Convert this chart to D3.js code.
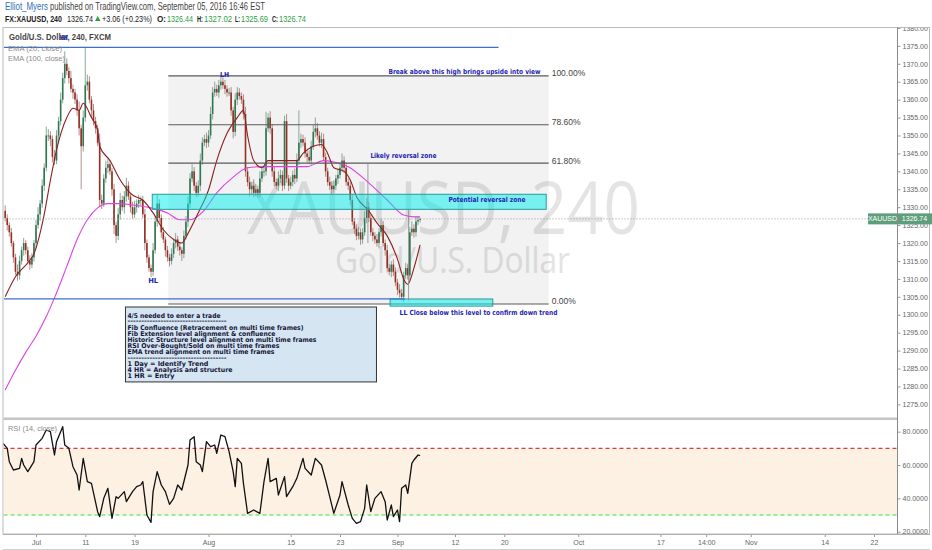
<!DOCTYPE html>
<html><head><meta charset="utf-8">
<script src="https://cdn.jsdelivr.net/npm/d3@7/dist/d3.min.js"></script>
<style>body{margin:0;background:#fff;}svg{display:block;}</style>
</head><body>
<svg id="c" width="932" height="550"></svg>
<script>
// ---------------- DATA ----------------
const symbolTitle = "Gold/U.S. Dollar, 240, FXCM";
const firstBarDate = "2016-06-27T06:00";   // first visible bar
const barSpan = 0.25;                        // trading days per bar
const firstOpen = 1329;
const closes = [1327,1325,1323,1320,1316,1312,1311,1315,1318,1320,
1318,1315,1314,1316,1320,1325,1328,1331,1336,1341,
1350,1350,1349,1344,1343,1350,1354,1360,1366,1370,
1368,1366,1363,1362,1360,1357,1352,1347,1355,1364,
1365,1360,1357,1354,1352,1348,1332,1331,1338,1341,
1342,1340,1335,1325,1322,1328,1332,1330,1333,1336,
1333,1330,1328,1330,1331,1332,1332,1328,1320,1316,
1313,1312,1318,1326,1331,1327,1323,1321,1318,1316,
1315,1317,1320,1321,1319,1318,1317,1322,1326,1331,
1338,1340,1336,1334,1336,1343,1348,1349,1348,1350,
1356,1362,1363,1362,1364,1365,1364,1363,1362,1362,
1357,1351,1360,1362,1361,1360,1356,1340,1337,1335,
1336,1334,1335,1334,1338,1340,1340,1352,1355,1352,
1340,1337,1336,1338,1339,1336,1354,1338,1336,1337,
1339,1338,1343,1348,1349,1348,1345,1344,1343,1347,
1351,1352,1350,1348,1349,1344,1340,1337,1336,1335,
1336,1338,1339,1341,1343,1341,1337,1336,1332,1326,
1324,1322,1323,1321,1323,1327,1330,1327,1323,1322,
1321,1320,1323,1325,1320,1318,1313,1312,1314,1312,
1309,1307,1306,1305,1311,1313,1311,1323,1324,1323,
1326,1326.44,1326.74];
const wickUp = [1.5,1,0.8,1.2,0.6,1,2,1.5,1,1.4,
0.8,1,1.6,1.2,0.9,1.5,2,1,1.8,1.2,
2.5,1.8,1.2,1,2,1.5,1.2,2,1.5,3.5,
1.5,1,2,1.2,1,1.5,2.5,1,2,10.6,
2,1.5,1,1.8,1.2,1,2.5,1.5,1.2,2,
1.5,1.2,1,1.5,1,1.8,2,1.2,1.5,2.2,
1.2,1,1.5,1.8,1.2,1.5,1,1.2,1.5,1,
0.8,1,2,1.5,2.5,1.2,1,1.5,0.8,1.2,
1,1.5,1.2,1.8,1,1.2,0.8,1.5,1.5,2,
1.5,2,1.2,1,1.5,2,1.5,1.2,1.8,1.5,
2,1.5,2,1.2,1.5,1.8,1.2,1.5,1,1.2,
1.5,1,1.8,1.5,1.2,1,1.5,2,1.2,1.5,
1,1.8,1.5,1,2,1.5,1.5,4.6,1.2,1.8,
1.2,1.5,1,2,1.5,1.2,1.5,2,1,1.5,
1.2,1.8,2,9,1.5,1.2,1.5,1,1.8,1.5,
2,3,1.5,1.2,1.8,1.5,1.2,1,1.5,1.2,
1.5,1,1.8,1.5,2,1.2,1.5,1,1.2,1.5,
1,1.2,1.5,1,1.2,2,2.5,1.5,1,1.2,
1,1.5,1.2,1.8,1.2,1,1.5,1.2,1,1.5,
1.2,1,1.5,1.2,1,1.5,1.2,1.5,2,1.2,
1.5,1,0.28];
const wickDn = [1,1.5,1.2,1,1.5,1,1.5,1.2,1,1.5,
1.2,1,1.5,1,1.2,1.5,1,1.8,1.2,1.5,
1,1.5,2,1.5,1.2,1,1.5,1.2,1,1.5,
1.2,1.5,1,1.8,1.2,1.5,2,12,1.5,1.2,
1.5,1,2,1.2,1.5,1,2,1.5,1,1.2,
1.5,1,1.8,2.5,2,1.2,1.5,1,1.8,1.5,
1,1.5,1.2,1,1.5,1.2,1.5,1,2,1.5,
1,1.5,1.2,1,1.5,1.2,1.5,1,1.8,1.2,
1.5,1,1.2,1.5,1.2,1.5,2,1.2,1,1.5,
1.2,1,1.5,1.2,1,1.5,1.2,1,1.5,1.2,
1,1.5,1.2,1,1.5,1.2,1,1.5,1.2,1,
1.5,1.8,1.2,1.5,1,1.2,1.5,1.5,1.2,2,
1.5,1.2,1,1.5,1.2,1,1.5,1.2,1,1.5,
1.5,1.2,1,1.5,1.2,1.5,1,1.2,1.5,1,
1.2,1.5,1,1.2,1.5,1,1.2,1.5,1,1.2,
1,1.5,1.2,1,1.5,1.2,1.5,1,1.2,1.5,
1,1.2,1.5,1,1.2,1.5,1,1.2,1.5,1,
1.5,1.2,1,1.5,1.2,1,1.5,1.2,1,1.5,
1.2,1,1.5,1.2,1,1.5,1.2,1,1.5,1.2,
1,1.5,1.2,1,1.5,1,1.2,1.5,1,1.5,
1.2,1,0.75];
const dayChange = 3.06, dayChangePct = 0.23;
// EMA lines: [bar index, value]
const ema20 = [[0,1305],[5,1310.6],[11,1314.5],[14,1317],[19,1328],[22,1337.5],[25,1346],[30,1355],[33,1357.6],[36,1357],[38,1359],[42,1355],[45,1351.5],[46,1347],[51,1343],[56,1337.6],[62,1333.4],[67,1332],[72,1328.4],[77,1323.7],[82,1321],[86,1320],[89,1322.7],[94,1328.4],[99,1334.8],[103,1343],[108,1350.6],[113,1355],[116,1357],[118,1350],[121,1343],[125,1341],[128,1343],[133,1343],[138,1343],[142,1343],[145,1345],[150,1347],[154,1347.5],[157,1345],[160,1341],[165,1340],[168,1337.6],[171,1333],[177,1329],[181,1325.6],[186,1322],[191,1315.5],[194,1310],[196,1308.5],[199,1313],[202,1319.5]];
const ema100 = [[0,1279],[5,1284.5],[10,1289.5],[15,1294],[20,1299.5],[24,1304.7],[30,1313.5],[35,1321],[40,1326.5],[45,1329.8],[50,1331],[56,1331],[62,1330.6],[71,1329.8],[79,1328.4],[85,1326.5],[90,1326.5],[97,1329.2],[103,1334],[111,1338.4],[118,1341],[126,1341.3],[136,1341.3],[147,1341.3],[155,1343],[160,1342.6],[167,1341.3],[177,1336.8],[186,1332],[194,1327.8],[199,1327.3],[202,1327.3]];
const rsi = [[-1,73],[1,70],[2,62],[4,57],[7,58],[8,64],[9,60],[11,56],[12,58],[14,62],[15,72],[18,76],[20,81],[22,80],[24,66],[25,74],[28,83],[29,72],[31,70],[33,59],[35,54],[36,45],[38,64],[40,50],[42,49],[45,32],[46,29],[48,40],[50,46],[52,28],[54,41],[55,40],[58,44],[59,38],[62,44],[64,47],[66,48],[67,50],[69,30],[71,25.6],[72,44],[74,56],[76,48],[78,44],[80,36.4],[82,40],[84,48],[86,45],[89,60],[90,75],[92,77],[93,62],[95,60],[96,56],[98,74],[100,71],[102,72],[103,67],[105,78],[107,77],[109,68],[111,56],[112,47],[113,64],[115,61],[116,49],[118,31],[121,33],[124,31],[126,50],[128,64],[129,50],[132,52],[133,42],[136,53],[137,41],[140,47],[142,52],[145,64],[146,58],[149,54],[151,64],[154,60],[156,51],[158,41],[160,31],[163,42],[164,50],[167,36],[169,28],[171,25],[173,26],[175,34],[176,48],[178,32],[180,40],[183,44],[185,38],[186,27],[188,36],[189,29],[191,33],[192,26],[193,46],[195,48],[196,43],[198,61],[199,63],[201,66],[202,65.6]];
const rsiLevels = [70, 30];
const priceTicks = [1275,1280,1285,1290,1295,1300,1305,1310,1315,1320,1325,1330,1335,1340,1345,1350,1355,1360,1365,1370,1375,1380];
const rsiTicks = [20,40,60,80];
const timeTickDates = ["2016-07-01","2016-07-11","2016-07-19","2016-08-01","2016-08-15","2016-08-23","2016-09-01","2016-09-12","2016-09-20","2016-10-03","2016-10-17","2016-10-24T14:00","2016-11-01","2016-11-14","2016-11-22"];
const timeTickLabels = ["Jul","11","19","Aug","15","23","Sep","12","20","Oct","17","14:00","Nov","14","22"];
// drawings: anchors in trading days since Jul 1 and price
const fib = {d0:16.1, d1:62.4, high:1366.6, low:1303.0, levels:[1,0.786,0.618,0]};
const hLines = [{d0:-3.9,d1:56.3,p:1374.55},{d0:-3.9,d1:44.9,p:1304.4}];
const zones = [{d0:14.15,d1:62.1,p0:1333.6,p1:1329.4},{d0:43.1,d1:55.6,p0:1304.4,p1:1302.4}];
const vLines = [{d:40.4,p0:1342.3,p1:1320},{d:45.35,p0:1329.2,p1:1304}];
const notes = [
 {t:"Break above this high brings upside into view",d:42.9,p:1367.1,w:152},
 {t:"Likely reversal zone",d:40.7,p:1343.7,w:66},
 {t:"Potential reversal zone",d:50.2,p:1331.4,w:77},
 {t:"LL",d:44.25,p:1300.0,w:8},
 {t:"Close below this level to confirm down trend",d:45.45,p:1300.0,w:148},
 {t:"HL",d:13.65,p:1308.8,w:10},
 {t:"LH",d:22.4,p:1366.2,w:9},
 {t:"HH",d:2.9,p:1376.6,w:8}
];
const boxNote = {d0:10.83,d1:41.38,p0:1302.3,p1:1281.4};
const boxLines = ["4/5 needed to enter a trade","------------------------------------","Fib Confluence (Retracement on multi time frames)","Fib Extension level alignment & confluence","Historic Structure level alignment on multi time frames","RSI Over-Bought/Sold on multi time frames","EMA trend alignment on multi time frames","------------------------------------","1 Day = Identify Trend","4 HR = Analysis and structure","1 HR = Entry"];
const boxLineWidths = [93,99,176,148,189,152,147,99,81,105,47];

// ---------------- HELPERS ----------------
function tradingDay(s){
  const [dp,tp]=s.split("T"); const [Y,M,D]=dp.split("-").map(Number);
  const t=Date.UTC(Y,M-1,D), base=Date.UTC(2016,6,1), day=864e5;
  let n=0;
  if(t>=base){ for(let u=base;u<t;u+=day){const w=new Date(u).getUTCDay(); if(w!==0&&w!==6) n++;} }
  else { for(let u=base;u>t;u-=day){const w=new Date(u-day).getUTCDay(); if(w!==0&&w!==6) n--;} }
  if(tp){const [h,m]=tp.split(":").map(Number); n+=(h+m/60)/24;}
  return n;
}
const bar0 = tradingDay(firstBarDate);
const barDay = i => bar0 + i*barSpan;

const UI = "'Liberation Sans', Arial, sans-serif";
const ANN = "'DejaVu Sans', Verdana, sans-serif";
const svg = d3.select("#c");
function T(parent,str,x,y,o={}){
  const t=parent.append("text").attr("x",x).attr("y",y).text(str)
   .attr("font-family",o.ff||UI).attr("font-size",o.fs||8).attr("fill",o.fill||"#333")
   .attr("font-weight",o.fw||"normal").attr("text-anchor",o.anchor||"start");
  if(o.len) t.attr("textLength",o.len).attr("lengthAdjust","spacingAndGlyphs");
  return t;
}

// ---------------- LAYOUT ----------------
const L=3.5, R=897.5, MT=29, MB=418, RT=420, RB=534;
const x = d3.scaleLinear().domain([0,102]).range([36,874]);
const y = d3.scaleLinear().domain([1271.2,1379.7]).range([MB,MT]);
const yr = d3.scaleLinear().domain([18.6,87]).range([RB,RT]);

const bars = closes.map((c,i)=>{const o=i===0?firstOpen:closes[i-1];
  return {i,o,c,h:Math.max(o,c)+wickUp[i],l:Math.min(o,c)-wickDn[i]};});
const last = bars[bars.length-1];

const defs = svg.append("defs");
defs.append("clipPath").attr("id","cm").append("rect").attr("x",L).attr("y",MT).attr("width",R-L).attr("height",MB-MT);
defs.append("clipPath").attr("id","cr").append("rect").attr("x",L).attr("y",RT).attr("width",R-L).attr("height",RB-RT);
defs.append("clipPath").attr("id","cax").append("rect").attr("x",R).attr("y",28).attr("width",40).attr("height",MB-28);
defs.append("clipPath").attr("id","caxr").append("rect").attr("x",R).attr("y",RT).attr("width",40).attr("height",RB-RT);

// ---------------- HEADER ----------------
const hd = svg.append("g");
T(hd,"Elliot_Myers",5,10,{fs:10,fill:"#2f6fb8",len:43});
T(hd,"published on TradingView.com, September 05, 2016 16:46 EST",50,10,{fs:10,fill:"#444",len:215});
const green="#2ea043";
const fmt2=d3.format(".2f");
T(hd,"FX:XAUUSD, 240",5,21.5,{fs:9,fw:"bold",fill:"#222",len:57});
T(hd,fmt2(last.c),67,21.5,{fs:9,fill:"#222",len:26});
hd.append("path").attr("d","M95,21 L100.5,21 L97.75,16 Z").attr("fill",green);
T(hd,`+${fmt2(dayChange)} (+${fmt2(dayChangePct)}%)`,102,21.5,{fs:9,fill:"#222",len:50});
const ohlc=[["O:",157,166,last.o,167,193],["H:",197,203,last.h,204,232],["L:",235,240,last.l,241,268],["C:",272,278,last.c,279,306]];
ohlc.forEach(a=>{T(hd,a[0],a[1],21.5,{fs:9,fw:"bold",fill:"#222",len:a[2]-a[1]});T(hd,fmt2(a[3]),a[4],21.5,{fs:9,fill:green,len:a[5]-a[4]});});

// ---------------- FRAME ----------------
const fr = svg.append("g").attr("fill","none").attr("stroke","#c8c8c8");
fr.append("rect").attr("x",L-0.5).attr("y",27.5).attr("width",930-L).attr("height",RB-27.5).attr("stroke","#b9b9b9");
svg.append("rect").attr("x",L).attr("y",MB-0.5).attr("width",R-L).attr("height",2.5).attr("fill","#c4c4c4");

// ---------------- MAIN PANE ----------------
const m = svg.append("g").attr("clip-path","url(#cm)");
// watermark
T(m,"XAUUSD, 240",443.5,234,{fs:74,ff:"'Open Sans', sans-serif",fill:"#e4e4e4",anchor:"middle",len:393});
T(m,"Gold/U.S. Dollar",452.5,273,{fs:36,ff:"'Open Sans', sans-serif",fill:"#e4e4e4",anchor:"middle",len:235});
// fib background
const fibP = l => fib.low + l*(fib.high-fib.low);
m.append("rect").attr("x",x(fib.d0)).attr("width",x(fib.d1)-x(fib.d0))
 .attr("y",y(fib.high)).attr("height",y(fib.low)-y(fib.high)).attr("fill","rgba(0,0,0,0.05)");
// candles
const cw=1.6;
m.append("g").selectAll("line").data(bars).join("line")
 .attr("x1",d=>x(barDay(d.i))).attr("x2",d=>x(barDay(d.i)))
 .attr("y1",d=>y(d.h)).attr("y2",d=>y(d.l))
 .attr("stroke",d=>d.c>=d.o?"#7f9e8c":"#a88580").attr("stroke-width",0.9);
m.append("g").selectAll("rect").data(bars).join("rect")
 .attr("x",d=>x(barDay(d.i))-cw/2).attr("width",cw)
 .attr("y",d=>y(Math.max(d.o,d.c))).attr("height",d=>Math.max(1,Math.abs(y(d.o)-y(d.c))))
 .attr("fill",d=>d.c>=d.o?"#2f7653":"#962f22");
// EMAs
const ln = d3.line().x(d=>x(barDay(d[0]))).y(d=>y(d[1])).curve(d3.curveMonotoneX);
m.append("path").datum(ema100).attr("d",ln).attr("fill","none").attr("stroke","#e040e6").attr("stroke-width",1.1);
m.append("path").datum(ema20).attr("d",ln).attr("fill","none").attr("stroke","#8e1f1f").attr("stroke-width",1.1);
// last price dotted line
m.append("line").attr("x1",L).attr("x2",R).attr("y1",y(last.c)).attr("y2",y(last.c))
 .attr("stroke","#999").attr("stroke-dasharray","1,2");
// fib lines
fib.levels.forEach(l=>{
  m.append("line").attr("x1",x(fib.d0)).attr("x2",x(fib.d1)).attr("y1",y(fibP(l))).attr("y2",y(fibP(l)))
   .attr("stroke","#5a5a5a").attr("stroke-width",1.2);
  T(m,(l*100).toFixed(2)+"%",x(fib.d1)+3,y(fibP(l))+0.5,{fs:8.5,fill:"#444"});
});
// zones
zones.forEach(z=>{
  m.append("rect").attr("x",x(z.d0)).attr("width",x(z.d1)-x(z.d0)).attr("y",y(z.p0)).attr("height",y(z.p1)-y(z.p0))
   .attr("fill","rgba(0,238,238,0.5)").attr("stroke","#2a9a9a").attr("stroke-width",1);
});
// horizontal blue lines
hLines.forEach(h=>{
  m.append("line").attr("x1",x(h.d0)).attr("x2",x(h.d1)).attr("y1",y(h.p)).attr("y2",y(h.p))
   .attr("stroke","#3d6fcc").attr("stroke-width",1.3);
});
// vertical lines
vLines.forEach(v=>{
  m.append("line").attr("x1",x(v.d)).attr("x2",x(v.d)).attr("y1",y(v.p0)).attr("y2",y(v.p1))
   .attr("stroke","#888").attr("stroke-width",0.8);
});
// legend
T(m,symbolTitle,9,40,{fs:8.5,fw:"bold",fill:"#444",len:102});
T(m,"EMA (20, close)",8,51,{fs:8,fill:"#8a8a8a",len:54});
T(m,"EMA (100, close)",8,61,{fs:8,fill:"#8a8a8a",len:57});
// notes
notes.forEach(n=>T(m,n.t,x(n.d),y(n.p),{fs:7,ff:ANN,fw:"bold",fill:"#2424b4",len:n.w}));
// box
const bx=x(boxNote.d0), by=y(boxNote.p0);
m.append("rect").attr("x",bx+0.5).attr("y",by+0.5).attr("width",x(boxNote.d1)-bx).attr("height",y(boxNote.p1)-by)
 .attr("fill","#d5e5f2").attr("stroke","#333").attr("stroke-width",1);
const boxBase=[317.5,323,330,335.8,341.8,348,354,359.5,366,372,378];
boxLines.forEach((s,i)=>T(m,s,bx+2.5,boxBase[i],{fs:6.6,ff:ANN,fw:"bold",fill:"#15153a",len:boxLineWidths[i]}));

// ---------------- RSI PANE ----------------
const r = svg.append("g").attr("clip-path","url(#cr)");
r.append("rect").attr("x",L).attr("width",R-L).attr("y",yr(rsiLevels[0])).attr("height",yr(rsiLevels[1])-yr(rsiLevels[0])).attr("fill","#fdf1e3");
r.append("line").attr("x1",L).attr("x2",R).attr("y1",yr(rsiLevels[0])).attr("y2",yr(rsiLevels[0])).attr("stroke","#e23a3a").attr("stroke-width",1.2).attr("stroke-dasharray","4,3");
r.append("line").attr("x1",L).attr("x2",R).attr("y1",yr(rsiLevels[1])).attr("y2",yr(rsiLevels[1])).attr("stroke","#3ddc3d").attr("stroke-width",1.2).attr("stroke-dasharray","4,3");
const rl = d3.line().x(d=>x(barDay(d[0]))).y(d=>yr(d[1]));
r.append("path").datum(rsi).attr("d",rl).attr("fill","none").attr("stroke","#111").attr("stroke-width",1.3).attr("stroke-linejoin","round");
T(r,"RSI (14, close)",8,431,{fs:8,fill:"#8a8a8a",len:49});

// ---------------- AXES ----------------
function styleAxis(g){
  g.select(".domain").remove();
  g.selectAll(".tick line").attr("stroke","#999");
  g.selectAll(".tick text").attr("fill","#666").attr("font-family",UI).attr("font-size",7);
}
svg.append("g").attr("clip-path","url(#cax)").append("g").attr("transform",`translate(${R},0)`)
 .call(d3.axisRight(y).tickValues(priceTicks).tickFormat(fmt2).tickSize(3).tickPadding(2)).call(styleAxis);
svg.append("g").attr("clip-path","url(#caxr)").append("g").attr("transform",`translate(${R},0)`)
 .call(d3.axisRight(yr).tickValues(rsiTicks).tickFormat(d=>d.toFixed(4)).tickSize(3).tickPadding(2)).call(styleAxis);
const tDays = timeTickDates.map(tradingDay);
svg.append("g").attr("transform",`translate(0,${RB})`)
 .call(d3.axisBottom(x).tickValues(tDays).tickFormat((d,i)=>timeTickLabels[i]).tickSize(3).tickPadding(3)).call(styleAxis);
// vertical axis border
svg.append("line").attr("x1",R).attr("x2",R).attr("y1",27.5).attr("y2",RB).attr("stroke","#8a8a8a");
svg.append("line").attr("x1",L-0.5).attr("x2",930).attr("y1",RB+0.5).attr("y2",RB+0.5).attr("stroke","#b0b0b0");
svg.append("line").attr("x1",L-0.5).attr("x2",930).attr("y1",549.5).attr("y2",549.5).attr("stroke","#d0d0d0");

// last price labels
const py=y(last.c);
svg.append("rect").attr("x",868).attr("y",py-5.5).attr("width",29).attr("height",11).attr("fill","#5f9e7d");
svg.append("rect").attr("x",R+0.5).attr("y",py-5.5).attr("width",34).attr("height",11).attr("fill","#5f9e7d");
T(svg,"XAUUSD",882.5,py+2.5,{fs:7,fill:"#fff",anchor:"middle"});
T(svg,fmt2(last.c),914.5,py+2.5,{fs:7,fill:"#fff",anchor:"middle"});
</script>
</body></html>
